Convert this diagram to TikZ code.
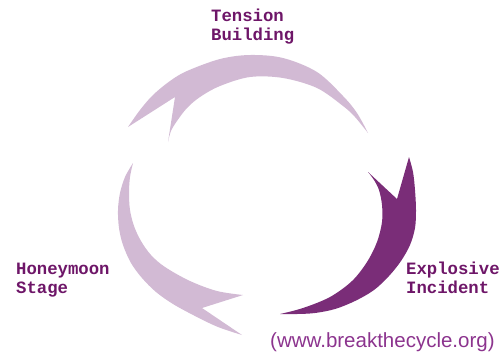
\documentclass[tikz,border=0pt]{standalone}
\usepackage{fontspec}
\setmainfont{Liberation Sans}
\setmonofont{Liberation Mono}
\definecolor{lightcres}{RGB}{210,186,212}
\definecolor{darkcres}{RGB}{122,45,120}
\definecolor{labelcol}{RGB}{110,22,104}
\definecolor{urlcol}{RGB}{140,52,142}
\begin{document}
\begin{tikzpicture}[x=1pt,y=-1pt,
  stagelabel/.style={inner sep=0pt, anchor=base west, align=left, text=labelcol,
    font=\ttfamily\bfseries\fontsize{17.3}{19}\selectfont},
  urllabel/.style={inner sep=0pt, anchor=base west, text=urlcol,
    font=\fontsize{20.5}{24}\selectfont},
  sm/.style={smooth, tension=0.55}]
\useasboundingbox (0,0) rectangle (502,354);
% top crescent (Tension Building)
\fill[lightcres]
  plot[sm] coordinates {(128,127) (140,110) (153,95) (170,81) (187,71) (220,59) (250,55) (283,58) (317,72) (343,96) (357,113) (368,133)}
  -- plot[sm] coordinates {(368,133) (355,117) (343,106) (317,88) (283,78) (250,77) (220,86) (200,97) (187,108) (177,121) (171,131) (168,142)}
  -- (175,97) -- cycle;
% right crescent (Explosive Incident)
\fill[darkcres]
  plot[sm] coordinates {(409,157) (413,172) (415,190) (416,210) (415,228) (410,245) (401,261) (389,276) (374,290) (355,301) (335,309) (315,313) (297,314) (280,314)}
  -- plot[sm] coordinates {(280,314) (303,308) (330,297) (352,281) (367,262) (377,242) (382,222) (382,205) (379,190) (374,180) (368,172)}
  -- (397,199) -- cycle;
% left crescent (Honeymoon Stage)
\fill[lightcres]
  plot[sm] coordinates {(242,335) (218,327) (195,316) (173,304) (156,292) (142,278) (131,263) (123,245) (119,228) (118,210) (120,193) (125,177) (133,163)}
  -- plot[sm] coordinates {(133,163) (130,177) (129,193) (130,210) (134,226) (141,241) (151,255) (165,267) (190,281) (217,291) (243,295)}
  -- (202,308) -- cycle;
\node[stagelabel] (tension) at (211,40) {Tension\\Building};
\node[stagelabel] (explosive) at (406,293) {Explosive\\Incident};
\node[stagelabel] (honeymoon) at (16,293) {Honeymoon\\Stage};
\node[urllabel] (url) at (270,347) {(www.breakthecycle.org)};
\end{tikzpicture}
\end{document}
